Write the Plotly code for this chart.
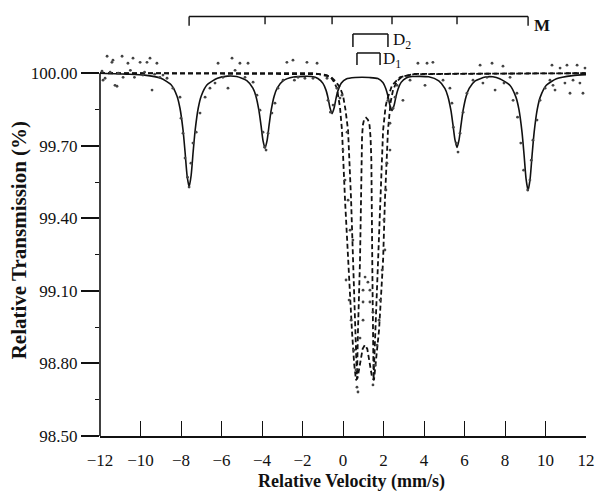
import plotly.graph_objects as go

# ---- Sextet (M) sub-spectrum, solid line ----
vel_m = [-12.0, -10.6, -9.8, -9.0, -8.5, -8.2, -8.05, -7.9, -7.8, -7.7, -7.6, -7.5, -7.4, -7.3, -7.15, -7.0, -6.7, -6.2,
         -5.7, -5.25, -4.75, -4.45, -4.3, -4.15, -4.05, -3.95, -3.85, -3.75, -3.65, -3.55, -3.4, -3.25, -2.95, -2.45,
         -1.9, -1.54, -1.24, -0.99, -0.84, -0.74, -0.64, -0.54, -0.44, -0.34, -0.24, -0.09, 0.16, 0.6, 0.94, 1.3,
         1.72, 1.97, 2.12, 2.22, 2.32, 2.42, 2.52, 2.62, 2.72, 2.87, 3.12, 3.42, 4.23, 4.73, 5.03, 5.18, 5.33, 5.43,
         5.53, 5.63, 5.73, 5.83, 5.93, 6.08, 6.23, 6.53, 7.03, 7.4, 7.74, 8.24, 8.54, 8.69, 8.84, 8.94, 9.04, 9.14,
         9.24, 9.34, 9.44, 9.59, 9.74, 10.04, 10.54, 11.34, 12.0]
trans_m = [100.0, 99.996, 99.992, 99.979, 99.953, 99.906, 99.855, 99.765, 99.675, 99.577, 99.53, 99.577, 99.675, 99.765,
           99.855, 99.906, 99.953, 99.979, 99.988, 99.986, 99.969, 99.938, 99.905, 99.845, 99.785, 99.721, 99.69,
           99.721, 99.785, 99.845, 99.905, 99.938, 99.969, 99.984, 99.987, 99.986, 99.978, 99.958, 99.930, 99.898,
           99.856, 99.833, 99.856, 99.898, 99.930, 99.958, 99.976, 99.982, 99.983, 99.982, 99.978, 99.962, 99.935,
           99.905, 99.866, 99.845, 99.866, 99.905, 99.935, 99.962, 99.980, 99.986, 99.985, 99.968, 99.937, 99.904,
           99.846, 99.787, 99.724, 99.693, 99.724, 99.787, 99.846, 99.904, 99.937, 99.968, 99.984, 99.985, 99.977,
           99.95, 99.901, 99.849, 99.756, 99.664, 99.563, 99.515, 99.563, 99.664, 99.756, 99.849, 99.901, 99.95,
           99.977, 99.99, 99.994]

# ---- Doublet D2 (outer flanks, W-shaped bottom), dashed ----
vel_d2 = [-12.0, -1.5, -0.8, -0.6, -0.45, -0.3, -0.15, -0.05, 0.1, 0.25, 0.44, 0.55, 0.64, 0.72, 0.85, 0.97, 1.08,
          1.2, 1.32, 1.44, 1.53, 1.63, 1.78, 1.98, 2.07, 2.22, 2.35, 2.47, 2.65, 2.9, 3.5, 12.0]
trans_d2 = [100.0, 100.0, 99.992, 99.982, 99.965, 99.938, 99.86, 99.764, 99.475, 99.227, 98.938, 98.80, 98.731, 98.74,
            98.80, 98.86, 98.876, 98.86, 98.80, 98.74, 98.731, 98.82, 98.938, 99.227, 99.475, 99.764, 99.88, 99.93,
            99.965, 99.985, 99.996, 100.0]

# ---- Doublet D1 (inner flanks with central hump), dashed ----
vel_d1 = [-12.0, -1.2, -0.6, -0.35, -0.15, 0.0, 0.12, 0.25, 0.40, 0.49, 0.59, 0.69, 0.74, 0.8, 0.84, 0.89, 0.91, 0.94,
          0.98, 1.04, 1.14, 1.23, 1.31, 1.36, 1.40, 1.43, 1.445, 1.46, 1.48, 1.51, 1.6, 1.73, 1.83, 1.98, 2.1, 2.17,
          2.42, 2.81, 3.5, 12.0]
trans_d1 = [100.0, 99.996, 99.985, 99.965, 99.94, 99.909, 99.85, 99.764, 99.475, 99.227, 98.938, 98.735, 98.938, 99.1,
            99.227, 99.475, 99.64, 99.735, 99.785, 99.808, 99.816, 99.808, 99.785, 99.735, 99.64, 99.475, 99.227, 99.1,
            98.938, 98.735, 98.938, 99.227, 99.475, 99.764, 99.86, 99.888, 99.95, 99.983, 99.997, 100.0]

# ---- Measured points ----
vel_pts = [-11.9, -11.85, -11.75, -11.65, -11.5, -11.41, -11.36, -11.26, -11.16, -11.1, -10.91, -10.86, -10.62, -10.5,
           -10.37, -10.3, -10.02, -9.88, -9.8, -9.68, -9.53, -9.43, -9.3, -9.19, -9.04, -8.89, -8.69,
           -8.40, -8.05, -8.0, -7.90, -7.80, -7.68, -7.60, -7.51, -7.41, -7.25, -7.06, -6.81, -6.57, -6.32, -6.17,
           -5.93, -5.68, -5.48, -5.33, -5.09, -4.84, -4.69,
           -4.44, -4.25, -4.10, -3.95, -3.87, -3.80, -3.70, -3.51, -3.36, -3.21, -2.96, -2.77, -2.47, -2.40, -2.22,
           -1.88, -1.78, -1.48, -1.28, -0.79,
           -0.74, -0.62, -0.49, -0.30, -0.15, -0.05,
           0.0, 0.10, 0.20, 0.25, 0.35, 0.49, 0.15, 0.30, 0.40, 0.54, 0.64, 0.69, 0.74,
           1.09, 1.23, 0.99, 1.33, 0.99, 1.33, 0.99, 1.48, 0.84,
           1.48, 1.58, 1.68, 1.78, 1.83, 1.93, 2.07, 2.02, 2.12, 2.17, 2.32, 2.32, 2.22,
           2.47, 2.57, 2.67, 2.96, 3.31, 3.70, 4.05, 4.15, 4.44, 4.94,
           5.28, 5.38, 5.45, 5.60, 5.68, 5.78, 5.93, 6.12, 6.42, 6.77, 6.91, 7.11, 7.36, 7.51, 7.90, 7.95, 8.25, 8.40,
           8.59, 8.62, 8.78, 8.92, 9.12, 9.23, 9.30, 9.38, 9.58, 9.73, 9.98, 10.22, 10.32, 10.37, 10.47, 10.72, 10.96,
           11.06, 11.21, 11.36, 11.56, 11.70, 11.85, 11.95]
trans_pts = [100.008, 99.971, 99.979, 100.070, 100.004, 100.045, 100.054, 99.950, 99.946, 100.0, 100.070, 99.983,
             100.041, 100.012, 100.062, 99.983, 100.045, 99.992, 100.004, 100.045, 100.062, 99.930, 99.996, 100.041,
             99.983, 99.992, 99.979,
             99.938, 99.901, 99.814, 99.752, 99.649, 99.570, 99.529, 99.628, 99.711, 99.756, 99.835, 99.901, 99.938,
             99.959, 100.041, 99.983, 99.938, 100.062, 100.012, 100.041, 99.983, 100.041,
             99.963, 99.909, 99.847, 99.756, 99.694, 99.682, 99.752, 99.835, 99.876, 99.938, 99.971, 100.045, 100.054,
             99.971, 99.983, 99.979, 100.045, 99.979, 100.041, 99.979,
             99.888, 99.839, 99.868, 99.938, 99.897, 99.909,
             99.682, 99.558, 99.756, 99.475, 99.351, 99.31, 99.145, 99.062, 98.979, 98.855, 98.773, 98.702, 98.682,
             99.157, 99.136, 99.103, 99.103, 99.054, 99.054, 98.979, 99.012, 98.905,
             98.711, 98.793, 98.876, 98.979, 99.062, 99.186, 99.269, 99.393, 99.517, 99.628, 99.682, 99.793, 99.888,
             99.855, 99.901, 99.950, 99.888, 99.971, 100.041, 99.950, 100.041, 100.045, 99.971,
             99.938, 99.876, 99.777, 99.711, 99.674, 99.752, 99.839, 99.917, 99.971, 100.033, 99.959, 99.983, 100.041,
             99.930, 100.029, 99.959, 99.983, 99.888,
             99.917, 99.818, 99.711, 99.599, 99.517, 99.558, 99.640, 99.723, 99.806, 99.888, 99.938, 99.971, 100.033,
             99.950, 99.930, 100.021, 99.959, 100.033, 99.917, 99.971, 100.033, 99.959, 99.917, 100.021]

# ---- Axis ticks and labels ----
x_ticks = [-12, -10, -8, -6, -4, -2, 0, 2, 4, 6, 8, 10, 12]
x_labels = ["\u221212", "\u221210", "\u22128", "\u22126", "\u22124", "\u22122", "0", "2", "4", "6", "8", "10", "12"]
y_ticks = [98.5, 98.8, 99.1, 99.4, 99.7, 100.0]
y_labels = ["98.50", "98.80", "99.10", "99.40", "99.70", "100.00"]
y_minor = [98.65, 98.95, 99.25, 99.55, 99.85]

# bracket positions (sextet line positions, doublet line positions)
m_lines = [-7.6, -3.85, -0.54, 2.42, 5.63, 9.14]
d2_lines = [0.49, 2.22]
d1_lines = [0.69, 1.83]

INK = "#111111"
FONT = "Liberation Serif"

fig = go.Figure()
fig.add_trace(go.Scatter(x=vel_d2, y=trans_d2, mode="lines", line=dict(color=INK, width=1.8, dash="5px,3px"),
                         showlegend=False, hoverinfo="skip"))
fig.add_trace(go.Scatter(x=vel_d1, y=trans_d1, mode="lines", line=dict(color=INK, width=1.8, dash="5px,3px"),
                         showlegend=False, hoverinfo="skip"))
fig.add_trace(go.Scatter(x=vel_m, y=trans_m, mode="lines", line=dict(color=INK, width=1.6, shape="spline", smoothing=0.6),
                         showlegend=False, hoverinfo="skip"))
fig.add_trace(go.Scatter(x=vel_pts, y=trans_pts, mode="markers", marker=dict(color="#444444", size=2.8),
                         showlegend=False, cliponaxis=False))

shapes = []
# y axis line (only up to 100.00)
shapes.append(dict(type="line", xref="paper", yref="y", x0=0, x1=0, y0=98.5, y1=100.0,
                   line=dict(color=INK, width=1.6)))
# M bracket
yb_top, yb_end, yb_mid = 1.0840, 1.0600, 1.0640
shapes.append(dict(type="line", xref="x", yref="paper", x0=m_lines[0], x1=m_lines[-1], y0=yb_top, y1=yb_top,
                   line=dict(color=INK, width=1.6)))
for i, v in enumerate(m_lines):
    y1 = yb_end if i in (0, len(m_lines) - 1) else yb_mid
    shapes.append(dict(type="line", xref="x", yref="paper", x0=v, x1=v, y0=yb_top, y1=y1,
                       line=dict(color=INK, width=1.4)))
# D2 and D1 brackets
for (lines, ytop, ybot) in [(d2_lines, 1.0388, 1.0052), (d1_lines, 0.9897, 0.9587)]:
    shapes.append(dict(type="line", xref="x", yref="paper", x0=lines[0], x1=lines[1], y0=ytop, y1=ytop,
                       line=dict(color=INK, width=1.5)))
    for v in lines:
        shapes.append(dict(type="line", xref="x", yref="paper", x0=v, x1=v, y0=ytop, y1=ybot,
                           line=dict(color=INK, width=1.5)))

annotations = [
    dict(text="<b>Relative Velocity (mm/s)</b>", xref="paper", yref="paper", x=0.5185, y=-0.1163,
         xanchor="center", yanchor="middle", showarrow=False, font=dict(family=FONT, size=18, color=INK)),
    dict(text="<b>Relative Transmission (%)</b>", xref="paper", yref="paper", x=-0.166, y=0.5065,
         xanchor="center", yanchor="middle", textangle=-90, showarrow=False,
         font=dict(family=FONT, size=21, color=INK)),
    dict(text="<b>M</b>", xref="x", yref="paper", x=9.35, y=1.062, xanchor="left", yanchor="middle",
         showarrow=False, font=dict(family=FONT, size=17, color=INK)),
    dict(text="D<sub>2</sub>", xref="x", yref="paper", x=2.36, y=1.021, xanchor="left", yanchor="middle",
         showarrow=False, font=dict(family=FONT, size=17, color=INK)),
    dict(text="D<sub>1</sub>", xref="x", yref="paper", x=1.9, y=0.972, xanchor="left", yanchor="middle",
         showarrow=False, font=dict(family=FONT, size=17, color=INK)),
]

fig.update_layout(
    width=598, height=493,
    margin=dict(l=100, r=12, t=49, b=57, autoexpand=False),
    paper_bgcolor="white", plot_bgcolor="white",
    font=dict(family=FONT, color=INK),
    shapes=shapes, annotations=annotations,
    xaxis=dict(range=[-12, 12], tickmode="array", tickvals=x_ticks, ticktext=x_labels, automargin=False,
               ticks="inside", ticklen=15, tickwidth=1.3, tickcolor=INK,
               showline=True, linecolor=INK, linewidth=1.6, showgrid=False, zeroline=False,
               tickfont=dict(family=FONT, size=17, color=INK), ticklabelstandoff=8),
    yaxis=dict(range=[98.5, 100.1], tickmode="array", tickvals=y_ticks, ticktext=y_labels, automargin=False,
               ticks="outside", ticklen=18, tickwidth=1.5, tickcolor=INK,
               showline=False, showgrid=False, zeroline=False,
               tickfont=dict(family=FONT, size=17, color=INK),
               minor=dict(tickmode="array", tickvals=y_minor, ticks="outside", ticklen=4, tickwidth=1.3,
                          tickcolor=INK, showgrid=False)),
)

fig.write_html("out.html", config={"displayModeBar": False},
               post_script="document.body.style.margin='0';document.body.style.overflow='hidden';")
